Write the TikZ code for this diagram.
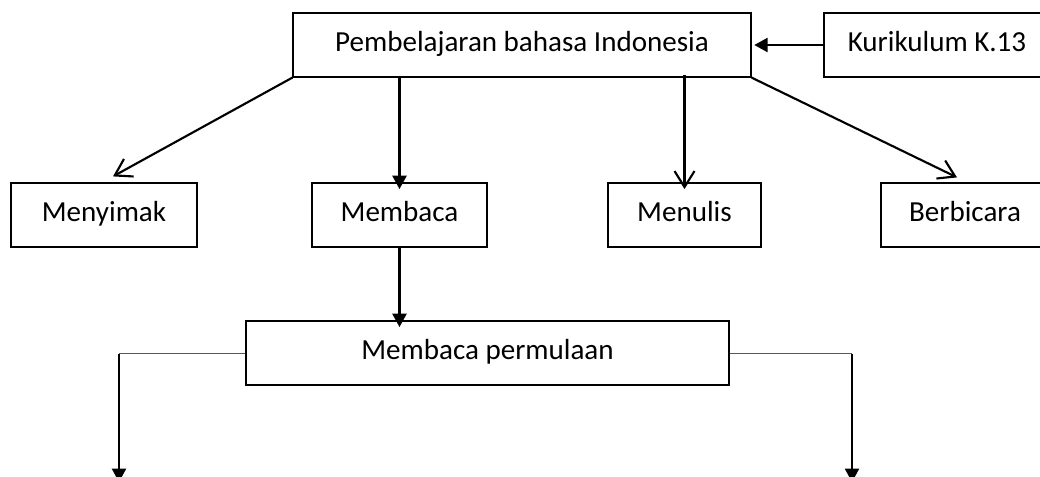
\documentclass[tikz,border=0pt]{standalone}
\usepackage{fontspec}
\setmainfont{Carlito}
\usetikzlibrary{arrows.meta}
\begin{document}
\begin{tikzpicture}[x=0.75pt,y=-0.75pt,
  box/.style={draw=black,line width=0.9pt,inner sep=0pt,minimum height=48pt,text height=15pt,text depth=6pt,font=\fontsize{21.8}{26}\selectfont},
  conn/.style={line width=1.6pt},
  solidtip/.style={-{Triangle[length=10pt,width=10.5pt]}},
  opentip/.style={-{Straight Barb[length=12pt,width=15pt]}},
  branch/.style={line width=0.7pt,draw=black!65}]
\useasboundingbox (0,0) rectangle (1040,476);
\clip (0,0) rectangle (1040,476);
% boxes
\node[box,minimum width=343.5pt] (main) at (522,45) {Pembelajaran bahasa Indonesia};
\node[box,minimum width=169.5pt] (kur) at (937,45) {Kurikulum K.13};
\node[box,minimum width=139.5pt] (meny) at (104,215) {Menyimak};
\node[box,minimum width=131.25pt] (memb) at (399.5,215) {Membaca};
\node[box,minimum width=114.75pt] (menu) at (684.5,215) {Menulis};
\node[box,minimum width=126pt] (berb) at (965,215) {Berbicara};
\node[box,minimum width=362.25pt] (perm) at (487.5,353) {Membaca permulaan};
% connectors
\draw[conn,solidtip] (kur.west) -- ([xshift=2]main.east);
\draw[conn,opentip] (main.south west) -- ([shift={(9,-6)}]meny.north);
\draw[conn,solidtip] (memb.north |- main.south) -- ([yshift=-5]memb.north);
\draw[conn,opentip] ([yshift=2]menu.north |- main.south) -- ([yshift=-5]menu.north);
\draw[conn,opentip] (main.south east) -- ([shift={(-8,-5)}]berb.north);
\draw[conn,solidtip] (memb.south) -- ([yshift=-5]perm.north -| memb.south);
% branches
\coordinate (lb) at (119,353);
\coordinate (le) at (119,482);
\coordinate (rb) at (852,353);
\coordinate (re) at (852,482);
\draw[branch] (perm.west) -- (lb);
\draw[branch] (perm.east) -- (rb);
\draw[conn,solidtip] ([yshift=-1]lb) -- (le);
\draw[conn,solidtip] ([yshift=-1]rb) -- (re);
\end{tikzpicture}
\end{document}
